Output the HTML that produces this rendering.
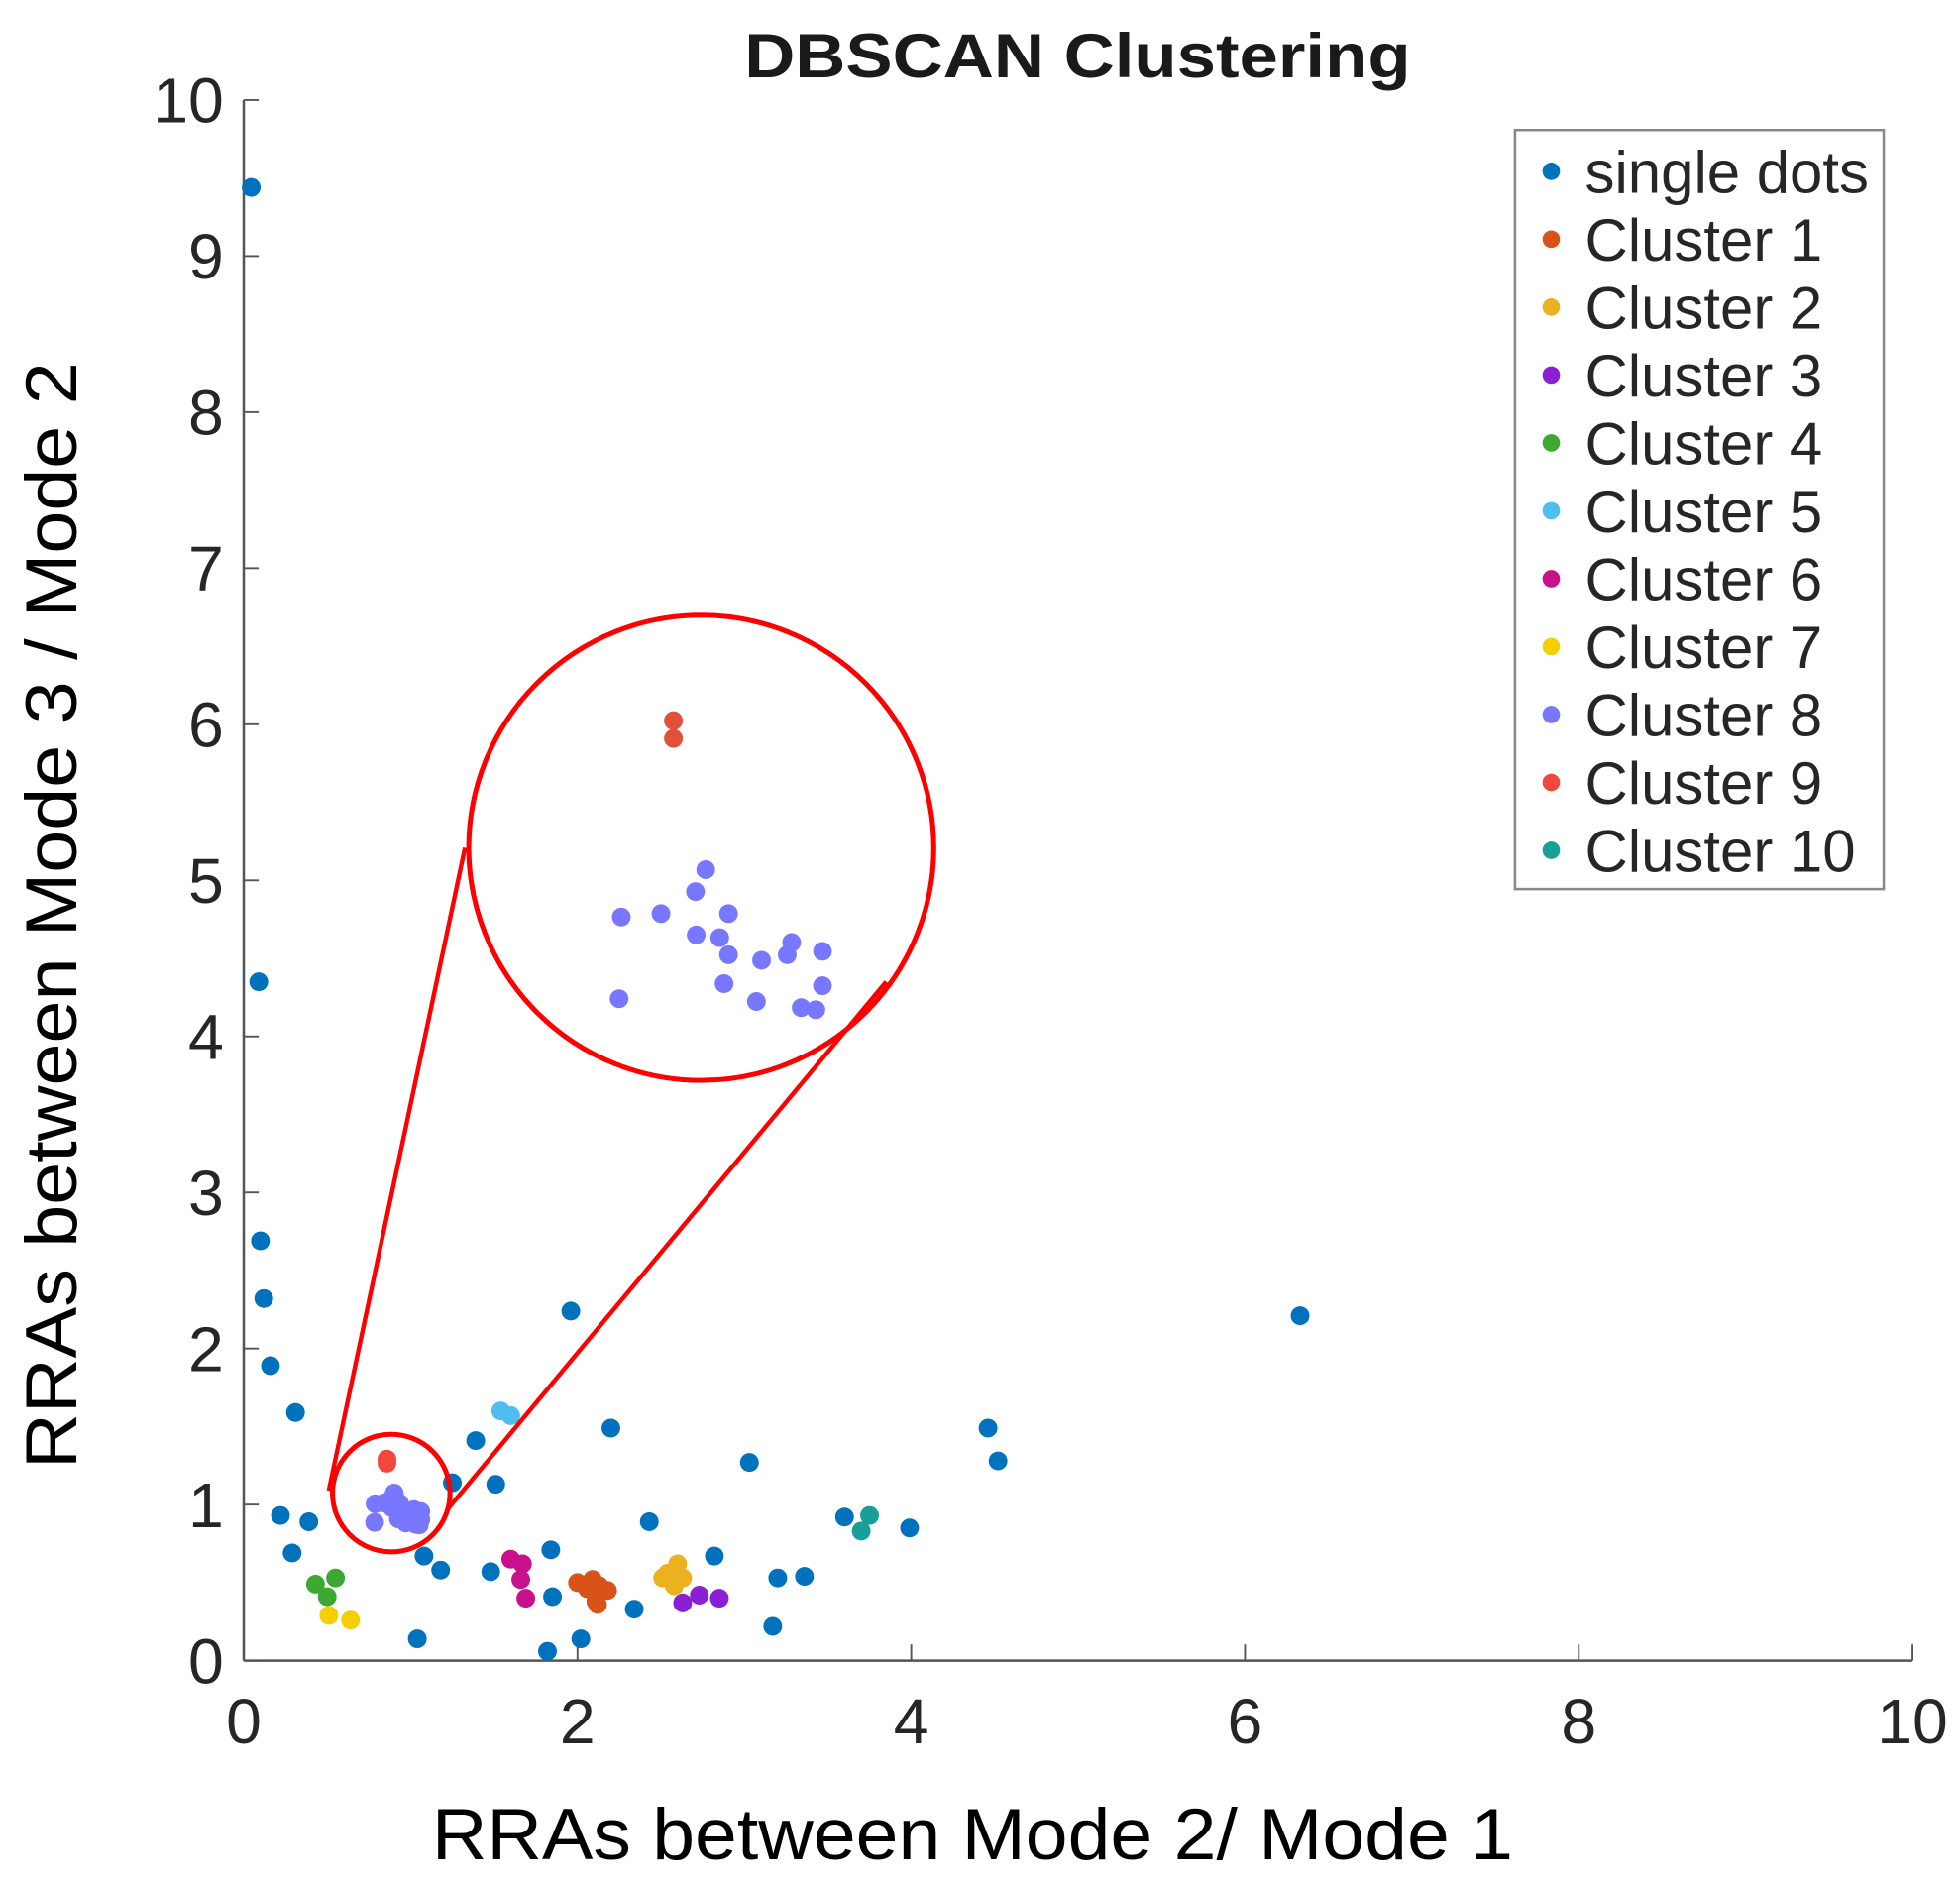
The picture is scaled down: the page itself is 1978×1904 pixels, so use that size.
<!DOCTYPE html>
<html><head><meta charset="utf-8"><style>
html,body{margin:0;padding:0;background:#fff;}
svg{display:block;font-family:"Liberation Sans",Arial,sans-serif;}
</style></head><body>
<svg id="chart" width="1978" height="1904" viewBox="0 0 1568 1509" preserveAspectRatio="none" xmlns="http://www.w3.org/2000/svg">
<text x="862" y="62" text-anchor="middle" font-weight="bold" font-size="50" fill="#1a1a1a" textLength="533" lengthAdjust="spacingAndGlyphs">DBSCAN Clustering</text>
<g id="axes"></g>
<g id="marks"></g>
<g id="zoom"></g>
<text x="778" y="1487" text-anchor="middle" font-size="58" fill="#000" textLength="865" lengthAdjust="spacingAndGlyphs">RRAs between Mode 2/ Mode 1</text>
<text transform="translate(61,732) rotate(-90)" text-anchor="middle" font-size="58" fill="#000" textLength="885" lengthAdjust="spacingAndGlyphs">RRAs between Mode 3 / Mode 2</text>
<g id="legend"></g>
</svg>
<script>
const xTicks = [0,2,4,6,8,10];
const yTicks = [0,1,2,3,4,5,6,7,8,9,10];
const seriesNames = ["single dots","Cluster 1","Cluster 2","Cluster 3","Cluster 4","Cluster 5","Cluster 6","Cluster 7","Cluster 8","Cluster 9","Cluster 10"];
const seriesColors = ["#0072BD","#D95319","#EDB120","#8A1FD6","#3CA832","#4DBEEE","#C8108C","#F5D000","#7777FF","#F0483C","#17A097"];
const singleDots = [[0.045,9.44],[0.09,4.35],[0.10,2.69],[0.12,2.32],[0.16,1.89],[0.31,1.59],[0.22,0.93],[0.29,0.69],[0.39,0.89],[1.04,0.14],[1.08,0.67],[1.18,0.58],[1.25,1.14],[1.39,1.41],[1.51,1.13],[1.48,0.57],[1.82,0.06],[1.84,0.71],[1.85,0.41],[1.96,2.24],[2.02,0.14],[2.20,1.49],[2.34,0.33],[2.43,0.89],[2.82,0.67],[3.03,1.27],[3.17,0.22],[3.20,0.53],[3.36,0.54],[3.60,0.92],[3.99,0.85],[4.46,1.49],[4.52,1.28],[6.33,2.21]];
const cluster1 = [[2.00,0.50],[2.06,0.46],[2.11,0.38],[2.13,0.48],[2.18,0.45],[2.09,0.52],[2.12,0.36]];
const cluster2 = [[2.51,0.53],[2.60,0.62],[2.58,0.48],[2.63,0.53],[2.54,0.56]];
const cluster3 = [[2.63,0.37],[2.73,0.42],[2.85,0.40]];
const cluster4 = [[0.43,0.49],[0.50,0.41],[0.55,0.53]];
const cluster5 = [[1.54,1.60],[1.60,1.57]];
const cluster6 = [[1.60,0.65],[1.67,0.62],[1.66,0.52],[1.69,0.40]];
const cluster7 = [[0.51,0.29],[0.64,0.26]];
const cluster8 = [[0.787,1.005],[0.784,0.886],[0.841,1.010],[0.888,1.042],[0.902,1.074],[0.889,0.979],[0.921,0.975],[0.933,1.010],[0.933,0.950],[0.927,0.908],[0.978,0.942],[0.971,0.882],[1.013,0.950],[1.019,0.968],[1.032,0.873],[1.052,0.870],[1.061,0.955],[1.061,0.905]];
const cluster9 = [[0.858,1.291],[0.858,1.265]];
const cluster10 = [[3.70,0.83],[3.75,0.93]];
const allSeries = [singleDots,cluster1,cluster2,cluster3,cluster4,cluster5,cluster6,cluster7,cluster8,cluster9,cluster10];

const NS="http://www.w3.org/2000/svg";
const X0=195,X1=1530,Y0=1328,Y1=80;
function sx(v){return X0+(v-0)/(10-0)*(X1-X0);}
function sy(v){return Y0-(v-0)/(10-0)*(Y0-Y1);}
function mk(tag,attrs,parent){const e=document.createElementNS(NS,tag);for(const k in attrs)e.setAttribute(k,attrs[k]);parent.appendChild(e);return e;}

const axes=document.getElementById('axes');
let l=mk('line',{x1:X0,y1:Y1,x2:X0,y2:Y0,stroke:"#555","stroke-width":2},axes);


l=mk('line',{x1:X0,y1:Y0,x2:X1,y2:Y0,stroke:"#555","stroke-width":2},axes);


xTicks.forEach(t=>{
  const tk=mk('line',{x1:sx(t),y1:Y0,x2:sx(t),y2:Y0-13,stroke:"#555","stroke-width":1.5},axes);
  
  
  const tx=mk('text',{x:sx(t),y:1394,"text-anchor":"middle","font-size":51,fill:"#262626"},axes);
  tx.textContent=t;
  
  
});
yTicks.forEach(t=>{
  const tk=mk('line',{x1:X0,y1:sy(t),x2:X0+12,y2:sy(t),stroke:"#555","stroke-width":1.5},axes);
  
  
  const tx=mk('text',{x:179,y:sy(t)+18,"text-anchor":"end","font-size":51,fill:"#262626"},axes);
  tx.textContent=t;
  
  
});

const marks=document.getElementById('marks');
allSeries.forEach((s,i)=>{
  s.forEach(p=>{
    const c=mk('circle',{cx:sx(p[0]),cy:sy(p[1]),r:7.5,fill:seriesColors[i]},marks);
    
    
  });
});

// zoom inset
const zoom=document.getElementById('zoom');
const sC=[314.6,1190], bC=[561,678], K=4.4;
const defs=mk('defs',{},zoom);
const cp=mk('clipPath',{id:'zc'},defs);
mk('circle',{cx:bC[0],cy:bC[1],r:186},cp);
let e=mk('circle',{cx:313,cy:1194,r:47,fill:"none",stroke:"#FF0000","stroke-width":4},zoom);


e=mk('circle',{cx:bC[0],cy:bC[1],r:186,fill:"#fff",stroke:"#FF0000","stroke-width":4},zoom);


e=mk('line',{x1:263,y1:1192,x2:372,y2:678,stroke:"#FF0000","stroke-width":3.5},zoom);


e=mk('line',{x1:358,y1:1207,x2:709,y2:785,stroke:"#FF0000","stroke-width":3.5},zoom);


const zg=mk('g',{"clip-path":"url(#zc)"},zoom);
[[cluster8,"#7777FF"],[cluster9,"#E0503A"]].forEach(([s,col])=>{
  s.forEach(p=>{
    const c=mk('circle',{cx:bC[0]+(sx(p[0])-sC[0])*K,cy:bC[1]+(sy(p[1])-sC[1])*K,r:7.5,fill:col},zg);
    
    
  });
});

// legend
const lg=document.getElementById('legend');
e=mk('rect',{x:1212,y:104,width:295,height:607,fill:"#fff",stroke:"#888","stroke-width":2},lg);


seriesNames.forEach((n,i)=>{
  const y=137+i*54.3;
  const c=mk('circle',{cx:1241,cy:y,r:7,fill:seriesColors[i]},lg);
  
  
  const t=mk('text',{x:1268,y:y+17,"font-size":47.5,fill:"#262626"},lg);
  t.textContent=n;
  
  
});
</script>
</body></html>
